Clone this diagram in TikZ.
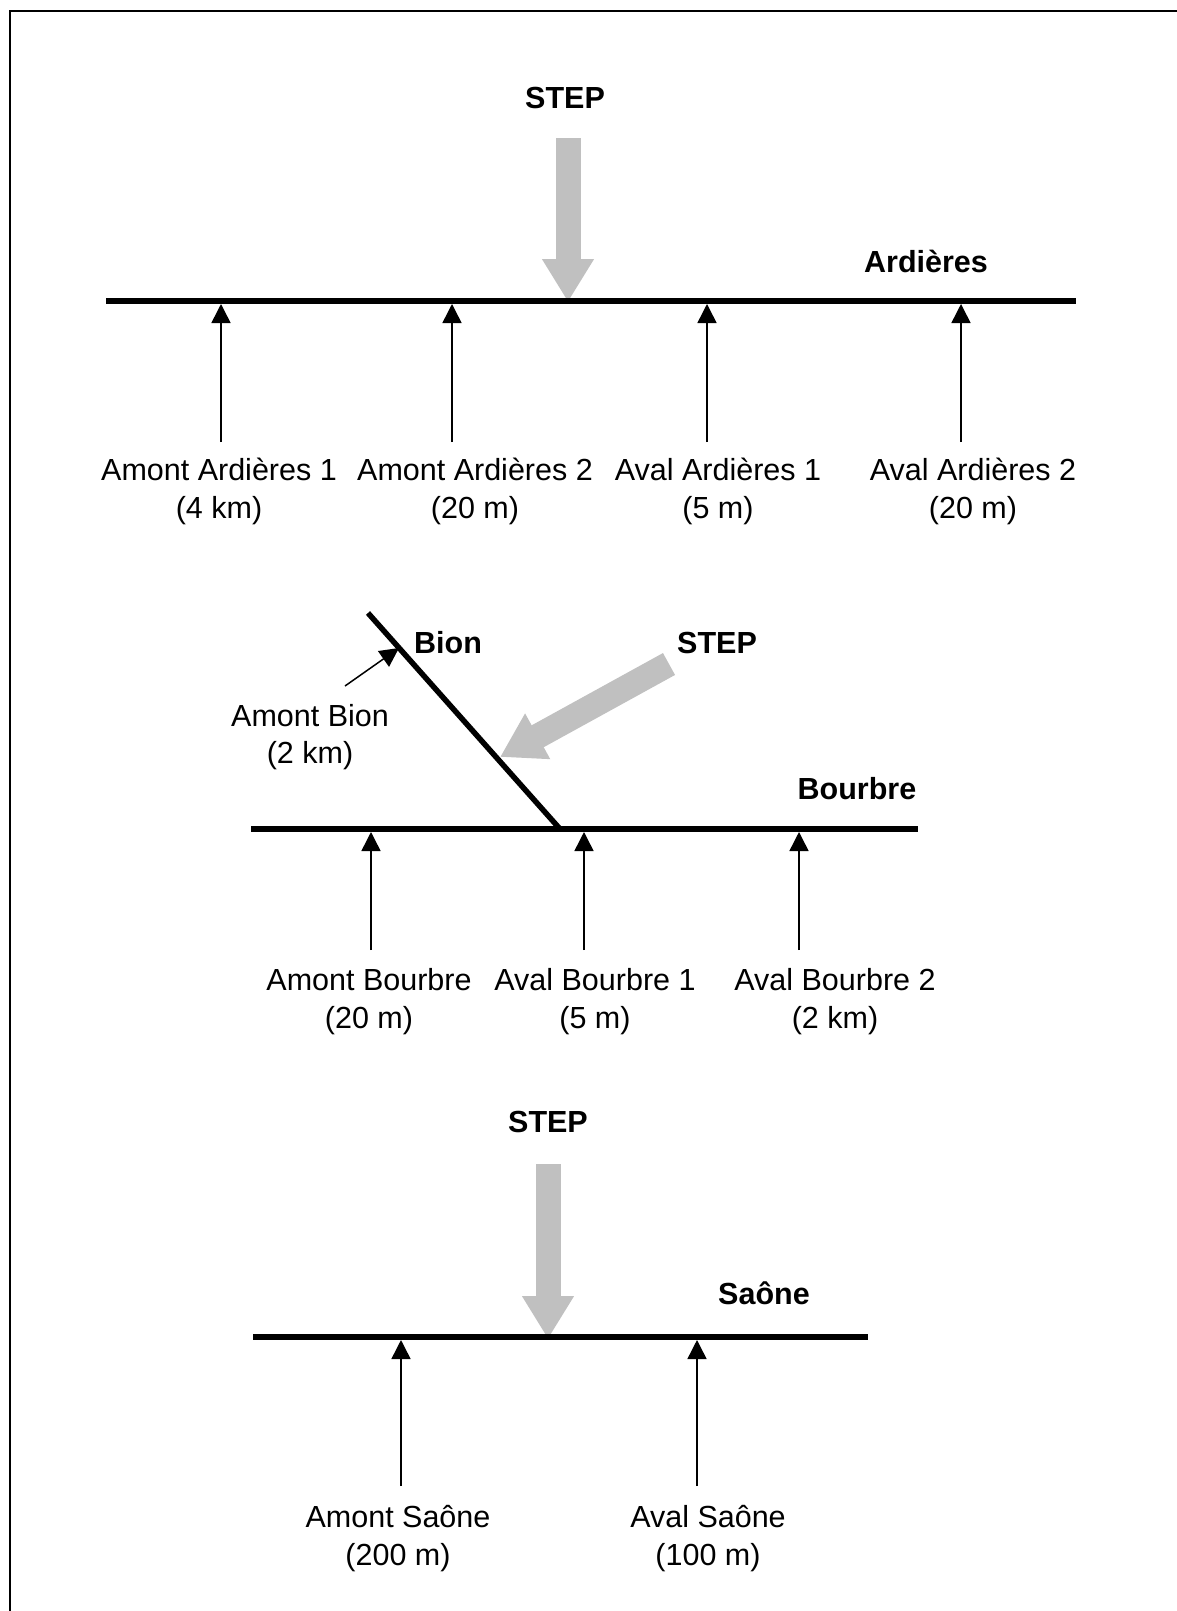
\documentclass[tikz,border=0pt]{standalone}
\usepackage{fontspec}
\setmainfont{Liberation Sans}
\usetikzlibrary{arrows.meta}
\definecolor{stepgray}{RGB}{192,192,192}

\begin{document}
\begin{tikzpicture}[x=1pt,y=-1pt,
        river/.style={line width=5.5pt},
        probe/.style={line width=1.5pt,-{Triangle[width=19pt,length=19pt]}},
        rejet/.style={stepgray,line width=25pt,-{Triangle[width=49pt,length=43pt]}},
        lbl/.style={font=\fontsize{30.5}{37.5}\selectfont,align=center,inner sep=0pt},
        nom/.style={font=\fontsize{30.5}{37.5}\selectfont\bfseries,inner sep=0pt}] % Points de prelevement
        \useasboundingbox (0,0) rectangle (1176,1611);
        \draw[line width=2pt] (10,1630) -- (10,11) -- (1190,11);

        % Ardieres
        \node[nom] (step1) at (565,98) {STEP};
        \coordinate (step1q) at (568,138);
        \coordinate (step1t) at (568,302);
        \draw[rejet] (step1q) -- (step1t);
        \coordinate (ardW) at (106,301);
        \coordinate (ardE) at (1076,301);
        \draw[river] (ardW) -- (ardE);
        \node[nom] (ard) at (926,261) {Ardières};
        \foreach \n/\x in {1/221,2/452,3/707,4/961}{
                \coordinate (ardq\n) at (\x,442);
                \coordinate (ardt\n) at (\x,304);
                \draw[probe] (ardq\n) -- (ardt\n);
        }
        \node[lbl] (amard1) at (219,491.5) {Amont Ardières 1\\(4 km)};
        \node[lbl] (amard2) at (475,491.5) {Amont Ardières 2\\(20 m)};
        \node[lbl] (avard1) at (718,491.5) {Aval Ardières 1\\(5 m)};
        \node[lbl] (avard2) at (973,491.5) {Aval Ardières 2\\(20 m)};

        % Bourbre et Bion
        \node[nom] (step2) at (717,643) {STEP};
        \coordinate (step2q) at (669,664);
        \coordinate (step2t) at (500,757);
        \draw[rejet] (step2q) -- (step2t);
        \coordinate (bionN) at (368,613);
        \coordinate (bionS) at (560,829);
        \draw[river] (bionN) -- (bionS);
        \node[nom] (bion) at (448,643) {Bion};
        \coordinate (bouW) at (251,829);
        \coordinate (bouE) at (918,829);
        \draw[river] (bouW) -- (bouE);
        \node[nom] (bou) at (857,789) {Bourbre};
        \node[lbl] (ambion) at (310,737) {Amont Bion\\(2 km)};
        \coordinate (bionq) at (345,686);
        \coordinate (biont) at (399,648);
        \draw[probe] (bionq) -- (biont);
        \foreach \n/\x in {1/371,2/584,3/799}{
                \coordinate (bouq\n) at (\x,950);
                \coordinate (bout\n) at (\x,832);
                \draw[probe] (bouq\n) -- (bout\n);
        }
        \node[lbl] (ambou) at (369,1001.5) {Amont Bourbre\\(20 m)};
        \node[lbl] (avbou1) at (595,1001.5) {Aval Bourbre 1\\(5 m)};
        \node[lbl] (avbou2) at (835,1001.5) {Aval Bourbre 2\\(2 km)};

        % Saone
        \node[nom] (step3) at (548,1122) {STEP};
        \coordinate (step3q) at (548,1164);
        \coordinate (step3t) at (548,1339);
        \draw[rejet] (step3q) -- (step3t);
        \coordinate (saoW) at (253,1337);
        \coordinate (saoE) at (868,1337);
        \draw[river] (saoW) -- (saoE);
        \node[nom] (sao) at (764,1293) {Saône};
        \foreach \n/\x in {1/401,2/697}{
                \coordinate (saoq\n) at (\x,1486);
                \coordinate (saot\n) at (\x,1340);
                \draw[probe] (saoq\n) -- (saot\n);
        }
        \node[lbl] (amsao) at (398,1538.5) {Amont Saône\\(200 m)};
        \node[lbl] (avsao) at (708,1538.5) {Aval Saône\\(100 m)};
\end{tikzpicture}
\end{document}
